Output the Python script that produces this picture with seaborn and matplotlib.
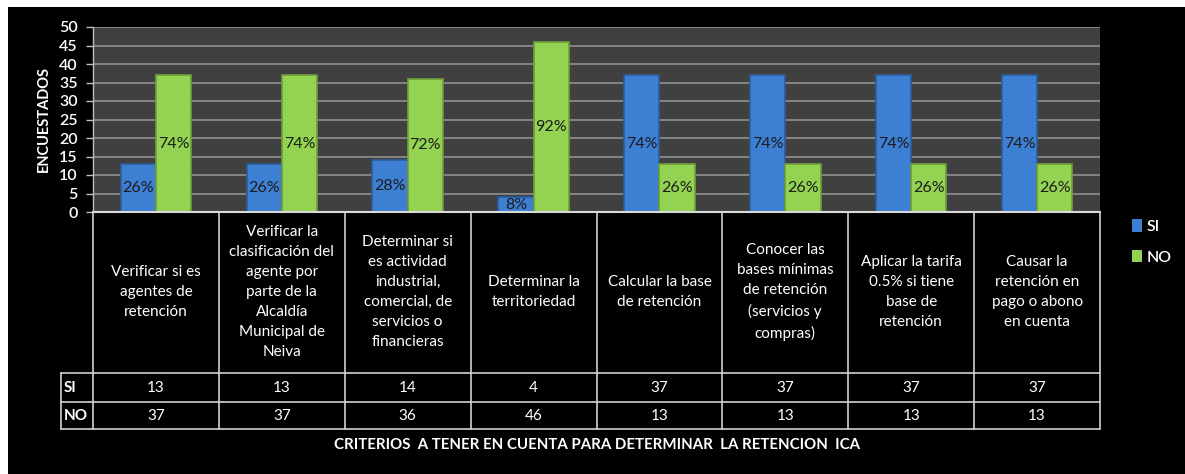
import pandas as pd
import seaborn as sns
import matplotlib.pyplot as plt
from matplotlib.patches import Rectangle

criterios = [
    "Verificar si es\nagentes de\nretención",
    "Verificar la\nclasificación del\nagente por\nparte de la\nAlcaldía\nMunicipal de\nNeiva",
    "Determinar si\nes actividad\nindustrial,\ncomercial, de\nservicios o\nfinancieras",
    "Determinar la\nterritoriedad",
    "Calcular la base\nde retención",
    "Conocer las\nbases mínimas\nde retención\n(servicios y\ncompras)",
    "Aplicar la tarifa\n0.5% si tiene\nbase de\nretención",
    "Causar la\nretención en\npago o abono\nen cuenta",
]
si = [13, 13, 14, 4, 37, 37, 37, 37]
no = [37, 37, 36, 46, 13, 13, 13, 13]
total = 50

df = pd.DataFrame({
    "criterio": list(range(len(criterios))) * 2,
    "resp": ["SI"] * len(si) + ["NO"] * len(no),
    "n": si + no,
})

sns.set_style("dark")
plt.rcParams['font.family'] = ['Lato', 'DejaVu Sans']

W, H = 1185, 474
fig = plt.figure(figsize=(11.85, 4.74), dpi=100, facecolor="white")
fig.patches.append(Rectangle((8 / W, 0), 1 - 8 / W, 1 - 7 / H, transform=fig.transFigure,
                             facecolor="black", edgecolor="none", zorder=-10))

left, right = 93 / W, 1100 / W
ax = fig.add_axes([left, 1 - 212 / H, right - left, (212 - 27) / H])
tab = fig.add_axes([left, 1 - 429 / H, right - left, (429 - 212) / H])

blue, green = "#3d7fd3", "#94d352"
sns.barplot(data=df, x="criterio", y="n", hue="resp", palette={"SI": blue, "NO": green},
            width=0.56, gap=0, ax=ax, saturation=1, edgecolor="none")

# darker rim like the bevelled bars
for cont, ec in zip(ax.containers, ["#2b5d9c", "#6e9e3a"]):
    for bar in cont:
        bar.set_edgecolor(ec)
        bar.set_linewidth(1.2)

ax.set_facecolor("#404040")
ax.set_xlim(-0.5, len(criterios) - 0.5)
ax.set_ylim(0, 50)
ax.set_yticks(range(0, 51, 5))
ax.yaxis.grid(True, color="#8a8a8a", linewidth=1.3)
ax.xaxis.grid(False)
ax.set_axisbelow(True)
ax.set_xticks([])
ax.set_xlabel("")
ax.set_ylabel("ENCUESTADOS", color="white", fontsize=10.5, fontweight="bold", labelpad=6)
ax.tick_params(axis="y", colors="white", labelsize=11.5, length=5, width=1, pad=6,
               left=True, color="#bfbfbf")
for lbl in ax.get_yticklabels():
    lbl.set_color("white")
    lbl.set_fontweight("semibold")
for s in ["top", "right"]:
    ax.spines[s].set_visible(False)
ax.spines["left"].set_color("#bfbfbf")
ax.spines["bottom"].set_color("#d9d9d9")
ax.spines["left"].set_linewidth(1)
ax.spines["bottom"].set_linewidth(1.5)

for cont in ax.containers:
    for bar, val in zip(cont, cont.datavalues):
        ax.text(bar.get_x() + bar.get_width() / 2, val / 2, f"{round(val / total * 100)}%",
                ha="center", va="center", fontsize=11.5, color="#1c1c1c")

handles, labels = ax.get_legend_handles_labels()
leg = ax.legend(handles, labels, loc="center left", bbox_to_anchor=(1126 / W, 1 - 242 / H),
                bbox_transform=fig.transFigure, frameon=False, labelcolor="white", fontsize=11.5,
                handlelength=0.6, handleheight=0.8, handletextpad=0.3, labelspacing=1.0,
                borderaxespad=0)
for t in leg.get_texts():
    t.set_fontweight("semibold")

# data table below the chart
tab.set_facecolor("black")
tab.set_xlim(ax.get_xlim())
tab.set_ylim(217, 0)
tab.axis("off")
lc = "#d0d0d0"
n = len(criterios)
lab_x = -0.5 - 32 / 125.9
for i in range(n + 1):
    tab.plot([i - 0.5, i - 0.5], [0, 217], color=lc, lw=1.2, clip_on=False)
for y in [161, 190, 217]:
    tab.plot([lab_x, n - 0.5], [y, y], color=lc, lw=1.2, clip_on=False)
tab.plot([lab_x, lab_x], [161, 217], color=lc, lw=1.2, clip_on=False)
for i, c in enumerate(criterios):
    tab.text(i, 80, c, ha="center", va="center", color="white", fontsize=11, linespacing=1.55)
    tab.text(i, 175.5, str(si[i]), ha="center", va="center", color="white", fontsize=11)
    tab.text(i, 203.5, str(no[i]), ha="center", va="center", color="white", fontsize=11)
tab.text(lab_x + 0.02, 175.5, "SI", ha="left", va="center", color="white", fontsize=11,
         fontweight="bold", clip_on=False)
tab.text(lab_x + 0.02, 203.5, "NO", ha="left", va="center", color="white", fontsize=11,
         fontweight="bold", clip_on=False)

fig.text((93 + 1100) / 2 / W, 1 - 445 / H,
         "CRITERIOS  A TENER EN CUENTA PARA DETERMINAR  LA RETENCION  ICA",
         ha="center", va="center", color="white", fontsize=10.8, fontweight="bold")

fig.savefig("out.png", dpi=100, facecolor=fig.get_facecolor())
